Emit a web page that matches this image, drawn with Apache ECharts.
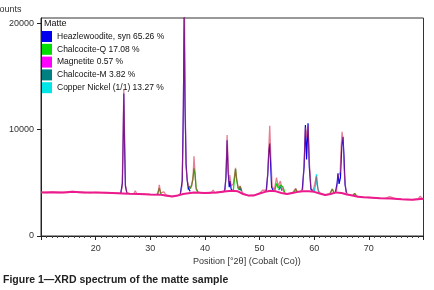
<!DOCTYPE html>
<html>
<head>
<meta charset="utf-8">
<script src="https://cdn.jsdelivr.net/npm/echarts@6/dist/echarts.min.js"></script>
<style>
    html, body { margin: 0; padding: 0; background: #fff; }
    #chart { width: 434px; height: 290px; }
</style>
</head>
<body>
<div id="chart"></div>
<script>
// x ticks / labels
const xTicks = [10, 20, 30, 40, 50, 60, 70, 80];
const yTicks = [0, 10000, 20000];

const legendNames = [
    'Heazlewoodite, syn 65.26 %',
    'Chalcocite-Q 17.08 %',
    'Magnetite 0.57 %',
    'Chalcocite-M 3.82 %',
    'Copper Nickel (1/1) 13.27 %'
];

// measured pattern, [2theta, counts]
const observed = [
    [10,4120],[11,4080],[12,4130],[13,4090],[14,4100],[15,4070],[15.7,4200],[16,4130],[17,4090],[18,4100],
    [19,4060],[20,4100],[21,4070],[22,4060],[23,4030],[24,4020],[24.6,4050],[24.85,4600],[25.0,8500],
    [25.15,13800],[25.3,9000],[25.45,4800],[25.7,4100],[26.3,3990],[27.0,4000],[27.25,4260],[27.5,4000],
    [28,3960],[29,3930],[30,3900],[31,3890],[31.4,3950],[31.65,4800],[31.9,4050],[32.2,3950],[32.5,4150],
    [32.8,3900],[33,3780],[34,3720],[35,3800],[35.5,3950],[35.8,4700],[36.0,9000],[36.15,17000],
    [36.25,21500],[36.4,12000],[36.55,6500],[36.75,5300],[37.0,4700],[37.3,4500],[37.6,4700],[37.85,5800],
    [38.0,7500],[38.15,6200],[38.35,4600],[38.7,4150],[39.2,4080],[40,4050],[41,4000],[41.5,4320],
    [41.8,4050],[42.5,4080],[43.3,4120],[43.7,4400],[43.9,6500],[44.06,9500],[44.25,6800],[44.4,5000],
    [44.55,5730],[44.8,4700],[45.2,4900],[45.45,5800],[45.6,6420],[45.8,5400],[46.1,4500],[46.45,4700],
    [46.7,4300],[47,3980],[48,3800],[49,3830],[50,4000],[50.55,4320],[50.9,4150],[51.3,4300],[51.55,6500],
    [51.86,10370],[52.05,7500],[52.3,4700],[52.7,4350],[53.1,5480],[53.4,4700],[53.8,5170],[54.1,4500],
    [54.5,4100],[55,3950],[56,4050],[56.6,4480],[56.9,4150],[57.5,4180],[57.9,4400],[58.2,7500],
    [58.39,10200],[58.6,9300],[58.87,10350],[59.1,7000],[59.4,4500],[59.8,4250],[60.1,4400],[60.4,5600],
    [60.7,4400],[61,4050],[62,3850],[62.8,3950],[63.3,4420],[63.7,4000],[64.1,4300],[64.35,5600],
    [64.5,5420],[64.75,6000],[64.95,8500],[65.1,9800],[65.3,8800],[65.5,6000],[65.8,4200],[66.2,3900],
    [67,3800],[67.4,4010],[67.7,3780],[68,3700],[69,3650],[70,3620],[71,3590],[72,3560],[73,3540],
    [73.8,3700],[74.1,3520],[75,3490],[76,3450],[77,3420],[78,3420],[79,3480],[79.4,3760],[79.7,3550],[80,3500]
];

// phase profiles (null = gap)
const heazlewoodite = [
    [24.6,4040],[24.9,5000],[25.05,9500],[25.15,13400],[25.3,8500],[25.45,4700],[25.7,4080], null,
    [35.5,3950],[35.85,5200],[36.05,12000],[36.2,21000],[36.35,12500],[36.55,6800],[36.75,5250],[36.95,4500],[37.3,4200], null,
    [43.6,4150],[43.85,5500],[44.06,9000],[44.25,6000],[44.45,4600],[44.6,5170],[44.8,4400],[45.1,4200], null,
    [51.2,4200],[51.5,5800],[51.7,8000],[51.86,8700],[52.0,7000],[52.2,4600],[52.5,4250], null,
    [57.8,4300],[58.15,6500],[58.39,10430],[58.6,7200],[58.87,10590],[59.1,6500],[59.4,4400],[59.7,4250], null,
    [63.9,4150],[64.2,5000],[64.35,5890],[64.55,4900],[64.8,5500],[65.05,8500],[65.27,9330],[65.45,7500],[65.65,4800],[65.9,4050]
];
const chalcociteQ = [
    [31.3,3900],[31.65,4500],[31.95,3920], null,
    [36.9,4350],[37.1,4700],[37.3,4450],[37.55,4800],[37.8,5300],[38.0,6360],[38.2,5800],[38.4,4400],[38.7,4150], null,
    [45.2,4300],[45.45,5600],[45.6,6300],[45.8,5300],[46.1,4400],[46.45,4650],[46.7,4250], null,
    [52.8,4300],[53.1,4950],[53.4,4500],[53.8,4800],[54.3,4600],[54.6,4100], null,
    [56.3,4080],[56.6,4420],[56.9,4130], null,
    [62.9,3950],[63.3,4420],[63.7,4000], null,
    [67.1,3820],[67.4,4010],[67.7,3790]
];
const chalcociteM = [
    [46.2,4300],[46.45,4500],[46.7,4200], null,
    [53.5,4300],[53.8,4650],[54.1,4250]
];
const copperNickel = [
    [60.0,4200],[60.25,4800],[60.4,5800],[60.55,4800],[60.8,4100]
];
// magnetite + background
const magnetite = [
    [10,4100],[12,4120],[14,4080],[15.7,4160],[16,4140],[18,4080],[20,4090],[22,4060],[24,4020],[26,3980],
    [28,3960],[30,3900],[32,3880],[33,3780],[34,3720],[35,3800],[36,3950],[38,4080],[40,4050],[42,4080],
    [44,4200],[45,4250],[46,4200],[47,3950],[48,3800],[49,3820],[50,4000],[51,4150],[52,4250],[53,4200],
    [54,4050],[55,3950],[56,4050],[57,4150],[58,4200],[59,4200],[60,4150],[61,4000],[62,3850],[63,3950],
    [64,4100],[65,4050],[66,3900],[67,3800],[68,3700],[69,3650],[70,3620],[72,3560],[74,3520],[76,3450],
    [78,3420],[80,3500]
];

const fontFamily = 'Liberation Sans';

function phase(name, data, color, width, z) {
    return {
        name: name,
        type: 'line',
        data: data,
        showSymbol: false,
        connectNulls: false,
        animation: false,
        z: z,
        itemStyle: { color: color },
        lineStyle: { color: color, width: width }
    };
}

const chart = echarts.init(document.getElementById('chart'), null, { renderer: 'canvas' });

const option = {
    animation: false,
    grid: {
        left: 41, right: 10.5, top: 18, bottom: 54,
        show: true,
        borderColor: '#333',
        borderWidth: 1
    },
    legend: {
        data: legendNames,
        orient: 'vertical',
        left: 42,
        top: 31,
        padding: 0,
        itemWidth: 10,
        itemHeight: 11,
        itemGap: 1.8,
        icon: 'rect',
        selectedMode: false,
        textStyle: { fontSize: 8.5, color: '#111', fontFamily: fontFamily }
    },
    xAxis: {
        type: 'value',
        min: xTicks[0],
        max: xTicks[xTicks.length - 1],
        interval: 10,
        axisLine: { lineStyle: { color: '#222', width: 1 } },
        axisTick: { length: 4, lineStyle: { color: '#222' } },
        minorTick: { show: true, splitNumber: 10, length: 2, lineStyle: { color: '#444' } },
        splitLine: { show: false },
        axisLabel: {
            showMinLabel: false, showMaxLabel: false,
            margin: 8, fontSize: 9, color: '#333', fontFamily: fontFamily
        }
    },
    yAxis: {
        type: 'value',
        min: yTicks[0],
        max: 20500,
        interval: 10000,
        axisLine: { show: true, lineStyle: { color: '#222', width: 1 } },
        axisTick: { show: true, length: 4, lineStyle: { color: '#222' } },
        splitLine: { show: false },
        axisLabel: {
            showMaxLabel: false,
            formatter: function (v) { return String(v); },
            margin: 7, fontSize: 9, color: '#333', fontFamily: fontFamily
        }
    },
    graphic: [
        { type: 'text', left: -7, top: 5, style: { text: 'Counts', fontSize: 9, fill: '#333', fontFamily: fontFamily } },
        { type: 'text', left: 44, top: 19, style: { text: 'Matte', fontSize: 9, fill: '#111', fontFamily: fontFamily } },
        { type: 'text', left: 193, top: 257, style: { text: 'Position [°2θ] (Cobalt (Co))', fontSize: 9, fill: '#333', fontFamily: fontFamily } },
        { type: 'text', left: 3, top: 275, style: { text: 'Figure 1—XRD spectrum of the matte sample', fontSize: 10.5, fontWeight: 'bold', fill: '#222', fontFamily: fontFamily } }
    ],
    series: [
        phase(legendNames[1], chalcociteQ, '#00dd00', 1.3, 2),
        phase(legendNames[3], chalcociteM, '#008080', 1.2, 2),
        phase(legendNames[4], copperNickel, '#00e5e5', 1.3, 2),
        phase(legendNames[0], heazlewoodite, '#0000ee', 1.2, 3),
        {
            name: 'Observed',
            type: 'line',
            data: observed,
            showSymbol: false,
            animation: false,
            z: 4,
            itemStyle: { color: '#d42a4c' },
            lineStyle: { color: '#d42a4c', width: 1.3, opacity: 0.6 }
        },
        phase(legendNames[2], magnetite, '#ff00ff', 2, 5)
    ]
};
// baseline drawn in a warmer pink than the legend swatch
option.series[5].lineStyle.color = '#ec1a8c';

chart.setOption(option);
</script>
</body>
</html>
